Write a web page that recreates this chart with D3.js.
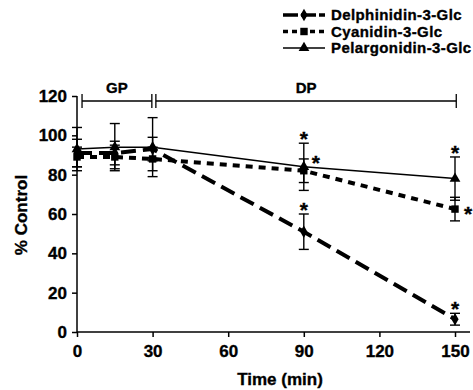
<!DOCTYPE html>
<html><head><meta charset="utf-8">
<script src="https://cdn.jsdelivr.net/npm/d3@7"></script>
<style>body{margin:0;background:#fff}svg{display:block}text{font-family:"Liberation Sans",Arial,sans-serif;font-weight:bold;fill:#000;stroke:#000;stroke-width:0.35px}</style>
</head><body><svg id="c" width="473" height="390"></svg>
<script>
const times = [0, 15, 30, 90, 150];
const seriesNames = ["Delphinidin-3-Glc", "Cyanidin-3-Glc", "Pelargonidin-3-Glc"];
const delphinidin = [91, 91, 93, 51, 6.5];
const delphinidinErr = [7, 6, 6, 9, 3];
const cyanidin = [89, 89, 88, 82, 62.5];
const cyanidinErr = [5, 6, 6, 6, 6];
const pelargonidin = [93, 94, 94, 84, 78];
const pelargonidinErr = [11, 12, 15, 12, 11];
const xTicks = [0, 30, 60, 90, 120, 150];
const yTicks = [0, 20, 40, 60, 80, 100, 120];

const svg = d3.select("#c");
const x = d3.scaleLinear().domain([0, 150]).range([77, 455]);
const y = d3.scaleLinear().domain([0, 120]).range([332, 96]);

// axes
const yAxis = svg.append("g").attr("transform", "translate(77,0)")
  .call(d3.axisLeft(y).tickValues(yTicks).tickSize(5).tickPadding(5));
yAxis.select(".domain").attr("d", `M0,${y(120)}V${y(0)}`).attr("stroke-width", 1.5);
yAxis.selectAll(".tick line").attr("stroke-width", 1.5);
yAxis.selectAll("text").style("font-size", "17px");
const xAxis = svg.append("g").attr("transform", `translate(0,${y(0)})`)
  .call(d3.axisBottom(x).tickValues(xTicks).tickSize(5).tickPadding(8));
xAxis.select(".domain").attr("d", `M77,0H470`).attr("stroke-width", 1.5);
xAxis.selectAll(".tick line").attr("stroke-width", 1.5);
xAxis.selectAll("text").style("font-size", "17px");
svg.selectAll(".tick text").attr("font-family", null).attr("font-size", null);

svg.append("text").attr("x", 280).attr("y", 385).attr("text-anchor", "middle").style("font-size", "17px").text("Time (min)");
svg.append("text").attr("transform", "translate(27,215) rotate(-90)").attr("text-anchor", "middle").style("font-size", "17px").text("% Control");

// GP / DP brackets
const by = 101;
function bracket(a, b, label) {
  const g = svg.append("g").attr("stroke", "#000").attr("stroke-width", 1.3);
  g.append("line").attr("x1", x(a)).attr("x2", x(b)).attr("y1", by).attr("y2", by);
  g.append("line").attr("x1", x(a)).attr("x2", x(a)).attr("y1", by - 7).attr("y2", by + 7);
  g.append("line").attr("x1", x(b)).attr("x2", x(b)).attr("y1", by - 7).attr("y2", by + 7);
  svg.append("text").attr("x", (x(a) + x(b)) / 2).attr("y", by - 8).attr("text-anchor", "middle").style("font-size", "15px").text(label);
}
bracket(2, 29.7, "GP");
bracket(31.3, 150.5, "DP");

const series = [
  {vals: delphinidin, err: delphinidinErr, dash: "15,7", w: 4, sym: d3.symbolDiamond, size: 45},
  {vals: cyanidin, err: cyanidinErr, dash: "7,6", w: 4, sym: d3.symbolSquare, size: 55},
  {vals: pelargonidin, err: pelargonidinErr, dash: null, w: 1.5, sym: d3.symbolTriangle, size: 50}
];
const line = d3.line().x((d, i) => x(times[i])).y(d => y(d));

// error bars
series.forEach(s => {
  const g = svg.append("g").attr("stroke", "#000").attr("stroke-width", 1.4);
  s.vals.forEach((v, i) => {
    const cx = x(times[i]);
    g.append("line").attr("x1", cx).attr("x2", cx).attr("y1", y(v + s.err[i])).attr("y2", y(v - s.err[i]));
    [v + s.err[i], v - s.err[i]].forEach(e => g.append("line").attr("x1", cx - 5).attr("x2", cx + 5).attr("y1", y(e)).attr("y2", y(e)));
  });
});
// lines & markers
series.forEach(s => {
  svg.append("path").attr("d", line(s.vals)).attr("fill", "none").attr("stroke", "#000")
    .attr("stroke-width", s.w).attr("stroke-dasharray", s.dash);
  s.vals.forEach((v, i) => {
    svg.append("path").attr("d", d3.symbol(s.sym, s.size)()).attr("transform", `translate(${x(times[i])},${y(v)})`).attr("fill", "#000");
  });
});

// asterisks
function star(px, py) {
  svg.append("text").attr("x", px).attr("y", py).attr("text-anchor", "middle").style("font-size", "21px").text("*");
}
star(x(90), y(pelargonidin[3] + pelargonidinErr[3]) + 3);
star(x(90) + 12, y(cyanidin[3] + cyanidinErr[3]) + 11);
star(x(90), y(delphinidin[3] + delphinidinErr[3]) + 3);
star(x(150), y(pelargonidin[4] + pelargonidinErr[4]) + 3);
star(x(150) + 13, y(cyanidin[4]) + 12);
star(x(150), y(delphinidin[4] + delphinidinErr[4]) + 3);

// legend
const lg = svg.append("g");
series.forEach((s, i) => {
  const ly = 15 + i * 16.5;
  lg.append("line").attr("x1", 283).attr("x2", 325).attr("y1", ly).attr("y2", ly).attr("stroke", "#000")
    .attr("stroke-width", i === 2 ? 1.5 : 3.5).attr("stroke-dasharray", i === 0 ? "15,3" : i === 1 ? "5,4" : null);
  lg.append("path").attr("d", d3.symbol(s.sym, s.size)()).attr("transform", `translate(304,${ly})`).attr("fill", "#000");
  lg.append("text").attr("x", 331).attr("y", ly + 5).style("font-size", "15px").style("letter-spacing", "0.4px").text(seriesNames[i]);
});
</script></body></html>
